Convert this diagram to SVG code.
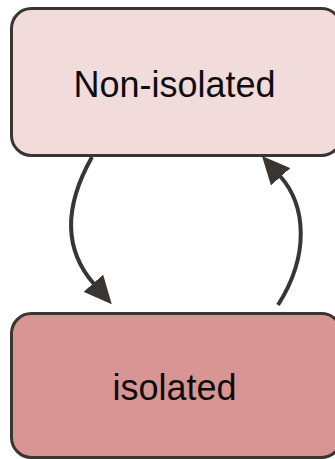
<svg xmlns="http://www.w3.org/2000/svg" width="335" height="459" viewBox="0 0 335 459">
  <style>
    .node rect { stroke: #3a3531; stroke-width: 3; }
    .node text { font-family: "Liberation Sans", Arial, sans-serif; font-size: 36px; fill: #0d0d0d; text-anchor: middle; }
    .edge { fill: none; stroke: #3a3531; stroke-width: 4; stroke-linecap: butt; marker-end: url(#arrow); }
  </style>
  <defs>
    <marker id="arrow" markerUnits="userSpaceOnUse" markerWidth="28" markerHeight="26" refX="1" refY="13" orient="auto">
      <path d="M0,0 L28,13 L0,26 Z" fill="#3a3531"/>
    </marker>
  </defs>
  <rect width="335" height="459" fill="#ffffff"/>

  <g id="node-non-isolated" class="node">
    <rect x="11.5" y="8.5" width="330" height="147" rx="20" ry="20" fill="#f2dbdb"/>
    <text x="174.5" y="97">Non-isolated</text>
  </g>

  <g id="node-isolated" class="node">
    <rect x="11.5" y="313.5" width="330" height="144" rx="20" ry="20" fill="#d99594"/>
    <text x="174.5" y="400">isolated</text>
  </g>

  <g id="connectors">
    <path class="edge" d="M 92 157 C 62 210, 66 252, 94 284"/>
    <path class="edge" d="M 278 305 C 310 255, 306 205, 280 176"/>
  </g>
</svg>
